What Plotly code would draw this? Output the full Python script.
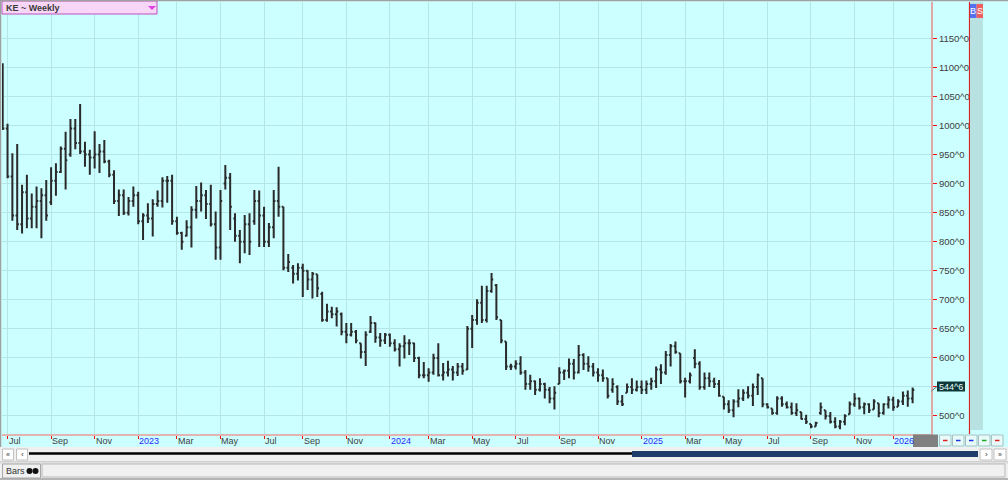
import pandas as pd
import plotly.graph_objects as go

# ---------------- data (weekly KE bars) ----------------
first_bar = "2022-06-24"
n_bars = 189

highs = [1107, 1003, 952, 968, 898, 915, 883, 895, 892, 906,
         928, 935, 964, 989, 1011, 1011, 1037, 972, 958, 990,
         968, 975, 941, 923, 890, 890, 877, 895, 886, 849,
         866, 873, 888, 911, 913, 915, 843, 817, 837, 861,
         896, 902, 889, 898, 852, 889, 932, 918, 849, 820,
         846, 849, 889, 888, 860, 832, 889, 929, 860, 779,
         760, 763, 762, 751, 748, 744, 714, 693, 688, 687,
         678, 660, 660, 648, 625, 646, 672, 661, 643, 643,
         642, 632, 625, 639, 632, 626, 602, 593, 582, 607,
         625, 591, 595, 586, 591, 591, 655, 674, 701, 724,
         724, 746, 727, 665, 628, 590, 596, 603, 579, 571,
         561, 565, 557, 550, 551, 584, 580, 599, 598, 622,
         608, 603, 591, 582, 580, 565, 565, 553, 536, 556,
         565, 561, 561, 561, 566, 585, 589, 612, 624, 628,
         608, 566, 575, 615, 594, 575, 575, 566, 562, 533,
         527, 529, 546, 546, 551, 556, 573, 565, 522, 513,
         534, 534, 525, 523, 522, 507, 502, 486, 490, 523,
         510, 507, 498, 493, 503, 525, 539, 532, 523, 522,
         529, 522, 522, 534, 533, 529, 542, 544, 549]

lows = [992, 909, 836, 820, 814, 823, 823, 823, 806, 836,
        863, 879, 918, 890, 946, 959, 951, 929, 915, 926,
        918, 935, 911, 865, 844, 846, 845, 860, 830, 803,
        832, 809, 860, 859, 867, 829, 812, 786, 809, 790,
        840, 852, 839, 826, 769, 769, 890, 820, 800, 763,
        780, 777, 829, 791, 791, 791, 806, 843, 751, 748,
        728, 733, 705, 717, 702, 705, 662, 662, 668, 654,
        639, 625, 637, 625, 599, 586, 643, 626, 619, 624,
        619, 611, 585, 599, 605, 593, 565, 565, 559, 571,
        568, 561, 568, 561, 569, 571, 579, 617, 657, 660,
        661, 712, 665, 625, 579, 579, 580, 571, 545, 545,
        536, 542, 530, 522, 511, 555, 562, 565, 563, 573,
        579, 576, 568, 559, 559, 530, 540, 519, 517, 540,
        538, 542, 538, 538, 545, 548, 555, 571, 585, 607,
        556, 532, 556, 582, 545, 545, 550, 548, 533, 511,
        505, 498, 515, 526, 530, 517, 536, 515, 513, 502,
        502, 516, 513, 502, 500, 494, 486, 479, 482, 502,
        494, 487, 479, 477, 484, 503, 516, 511, 503, 505,
        511, 498, 502, 513, 509, 516, 519, 516, 522]

opens = [1105, 995, 912, 845, 830, 885, 840, 860, 870, 880,
         868, 905, 920, 960, 950, 995, 970, 955, 950, 945,
         950, 955, 938, 915, 870, 880, 850, 870, 880, 835,
         845, 840, 865, 870, 905, 905, 835, 815, 810, 825,
         855, 870, 880, 865, 830, 790, 900, 910, 840, 810,
         800, 830, 835, 870, 845, 800, 825, 870, 860, 755,
         755, 745, 755, 750, 735, 744, 710, 665, 680, 675,
         675, 645, 640, 645, 625, 610, 645, 660, 635, 630,
         640, 625, 615, 620, 625, 625, 600, 570, 570, 575,
         600, 570, 575, 580, 575, 585, 580, 650, 665, 695,
         665, 715, 725, 665, 628, 585, 585, 590, 575, 555,
         560, 545, 555, 545, 530, 555, 575, 578, 590, 575,
         605, 590, 585, 575, 570, 565, 545, 550, 525, 540,
         550, 545, 550, 545, 555, 560, 580, 575, 605, 620,
         608, 560, 560, 600, 590, 550, 565, 560, 555, 533,
         520, 510, 525, 530, 540, 535, 550, 565, 520, 513,
         505, 530, 520, 515, 505, 507, 495, 486, 482, 505,
         510, 500, 490, 482, 490, 503, 520, 530, 515, 520,
         511, 522, 505, 520, 528, 516, 525, 535, 530]

closes = [995, 912, 845, 830, 885, 840, 860, 870, 880, 845,
          905, 920, 960, 940, 995, 970, 955, 950, 945, 950,
          955, 938, 915, 870, 880, 850, 870, 880, 835, 845,
          840, 865, 870, 905, 905, 835, 815, 800, 825, 855,
          870, 880, 865, 830, 790, 870, 910, 860, 810, 800,
          830, 800, 870, 845, 800, 825, 870, 860, 755, 765,
          745, 755, 750, 735, 745, 720, 665, 680, 675, 680,
          645, 640, 645, 630, 610, 640, 660, 635, 630, 640,
          625, 615, 620, 625, 625, 600, 570, 570, 575, 600,
          570, 575, 580, 575, 585, 578, 650, 665, 695, 665,
          715, 735, 670, 630, 585, 585, 590, 575, 555, 560,
          545, 555, 545, 530, 540, 575, 578, 590, 575, 605,
          590, 585, 575, 570, 565, 535, 555, 525, 520, 550,
          545, 550, 545, 555, 560, 580, 575, 605, 620, 610,
          560, 560, 570, 590, 550, 565, 560, 555, 535, 520,
          510, 525, 530, 540, 535, 550, 570, 520, 515, 505,
          530, 520, 515, 505, 510, 495, 490, 482, 488, 515,
          500, 490, 482, 490, 500, 520, 530, 515, 520, 510,
          525, 505, 520, 528, 515, 525, 535, 530, 544.75]

month_ticks = ["2022-07-01", "2022-09-02", "2022-11-04", "2023-01-06", "2023-03-03",
               "2023-05-05", "2023-07-07", "2023-09-01", "2023-11-03", "2024-01-05",
               "2024-03-01", "2024-05-03", "2024-07-05", "2024-09-06", "2024-11-01",
               "2025-01-03", "2025-03-07", "2025-05-02", "2025-07-04", "2025-09-05",
               "2025-11-07", "2026-01-02"]
month_labels = ["Jul", "Sep", "Nov", "2023", "Mar", "May", "Jul", "Sep", "Nov", "2024",
                "Mar", "May", "Jul", "Sep", "Nov", "2025", "Mar", "May", "Jul", "Sep",
                "Nov", "2026"]

price_ticks = [500, 550, 600, 650, 700, 750, 800, 850, 900, 950, 1000, 1050, 1100, 1150]
price_labels = ["500^0", "", "600^0", "650^0", "700^0", "750^0", "800^0", "850^0",
                "900^0", "950^0", "1000^0", "1050^0", "1100^0", "1150^0"]
last_label = "544^6"
title_text = "KE ~ Weekly"

dates = pd.date_range(first_bar, periods=n_bars, freq="7D")

# ---------------- figure ----------------
CYAN = "#ccffff"
GRID = "#b4e6e6"
FONT = "Liberation Sans"

fig = go.Figure()
fig.add_trace(go.Ohlc(
    x=dates, open=opens, high=highs, low=lows, close=closes,
    increasing=dict(line=dict(color="#2a2a2a", width=2)),
    decreasing=dict(line=dict(color="#2a2a2a", width=2)),
    tickwidth=0.35, hoverinfo="skip", showlegend=False))

L, R, T, B = 2, 931, 2, 434
W, H = R - L, B - T


def PX(x):
    return (x - L) / W


def PY(y):
    return (B - y) / H


shapes = []
annos = []


def rect(x0, y0, x1, y1, fill, line=None, lw=1):
    shapes.append(dict(type="rect", xref="paper", yref="paper",
                       x0=PX(x0), x1=PX(x1), y0=PY(y1), y1=PY(y0),
                       fillcolor=fill,
                       line=dict(color=line if line else fill, width=lw if line else 0)))


def seg(x0, y0, x1, y1, color, lw=1):
    shapes.append(dict(type="line", xref="paper", yref="paper",
                       x0=PX(x0), x1=PX(x1), y0=PY(y0), y1=PY(y1),
                       line=dict(color=color, width=lw)))


def text(x, y, s, size=9, color="#333333", anchor="left", bold=False):
    annos.append(dict(xref="paper", yref="paper", x=PX(x), y=PY(y), text=("<b>%s</b>" % s) if bold else s,
                      showarrow=False, xanchor=anchor, yanchor="middle",
                      font=dict(family=FONT, size=size, color=color), borderpad=0))


# right-hand strip
seg(969.5, 2, 969.5, 434, "#dd2222", 1.2)
rect(970, 2, 983, 430, "#b8e2e2")
rect(970, 4, 976.5, 18, "#5570ee")
rect(976.5, 4, 983, 18, "#ee6060")
text(973.2, 11, "B", 9, "white", "center")
text(979.8, 11, "S", 9, "white", "center")

# title box
rect(2, 1, 157, 14, "#f7d6f8", "#c050c0", 1)
text(5, 7.7, title_text, 9, "#3a3a3a", bold=True)
shapes.append(dict(type="path", xref="paper", yref="paper",
                   path="M %f %f L %f %f L %f %f Z" % (PX(148), PY(6), PX(156), PY(6), PX(152), PY(10)),
                   fillcolor="#e040e0", line=dict(width=0)))

# last price label
seg(931.5, 391, 937, 386.5, "#557777", 1)
rect(937, 381.5, 965, 391.5, "#0e3838")
text(951, 386.8, last_label, 9, "#e8ffff", "center")

# gray box and buttons on the date row
rect(913, 434.5, 938, 447, "#808080")
btn_x = [939.5, 952.5, 965.5, 978.5, 991.5]
btn_c = ["#dd2222", "#2233dd", "#2233dd", "#22aa22", "#dd2222"]
for bx, bc in zip(btn_x, btn_c):
    rect(bx, 435, bx + 11.5, 446, "#e8fbfb", "#a8c0c0", 1)
    seg(bx + 3.5, 440.5, bx + 8, 440.5, bc, 1.5)

# lower grey panel
rect(-2, 447, 1010, 482, "#f0f0f0")
rect(2.5, 449, 13.5, 460, "#ffffff", "#c0c0c0", 1)
rect(16.5, 449, 27.5, 460, "#ffffff", "#c0c0c0", 1)
text(8, 454.5, "«", 7, "#333333", "center")
text(22, 454.5, "‹", 8, "#333333", "center")
seg(29, 453.5, 632, 453.5, "#000000", 2.5)
rect(632, 451, 978, 457, "#1f3d6b")
rect(980, 449, 992, 460, "#ffffff", "#c0c0c0", 1)
rect(994, 449, 1006, 460, "#ffffff", "#c0c0c0", 1)
text(986, 454.5, "›", 8, "#333333", "center")
text(1000, 454.5, "»", 7, "#333333", "center")
seg(0, 461.5, 1008, 461.5, "#d0d0d0", 1)
seg(0, 463, 1008, 463, "#d0d0d0", 1)
rect(2.5, 464, 40.5, 478, "#f0f0f0", "#a8a8a8", 1)
text(5, 471, "Bars", 9, "#333333")
for cx in (29.5, 35.5):
    shapes.append(dict(type="circle", xref="paper", yref="paper",
                       x0=PX(cx - 3), x1=PX(cx + 3), y0=PY(474), y1=PY(468),
                       fillcolor="#111111", line=dict(width=0)))
rect(42, 464, 1005, 477, "#f0f0f0", "#b8b8b8", 1)
seg(0, 479, 1008, 479, "#a0a0a0", 1.5)

# outer frame
seg(0, 0.5, 1008, 0.5, "#a0a0a0", 1.5)
seg(0.5, 0, 0.5, 447, "#a0a0a0", 1.5)

# date labels (left-aligned at their ticks)
for d, lab in zip(month_ticks, month_labels):
    annos.append(dict(xref="x", yref="paper", x=d, y=PY(441), text=lab, showarrow=False,
                      xanchor="left", yanchor="middle", borderpad=0,
                      font=dict(family=FONT, size=9,
                                color="#2b2bff" if lab.isdigit() else "#404040")))

fig.update_layout(
    width=1008, height=480,
    margin=dict(l=L, r=1008 - R, t=T, b=480 - B),
    paper_bgcolor=CYAN, plot_bgcolor=CYAN,
    showlegend=False,
    shapes=shapes, annotations=annos,
    xaxis=dict(type="date", range=["2022-06-23", "2026-02-25 14:00"],
               tickvals=month_ticks, showticklabels=False,
               ticks="outside", ticklen=3, tickcolor="#ee1111", tickwidth=1,
               showgrid=True, gridcolor=GRID, gridwidth=1,
               showline=True, linecolor="#e2b4b4", linewidth=2,
               rangeslider=dict(visible=False), fixedrange=True, zeroline=False),
    yaxis=dict(side="right", range=[469, 1212.5],
               tickvals=price_ticks, ticktext=price_labels,
               ticks="outside", ticklen=4, tickcolor="#ee1111", tickwidth=1,
               tickfont=dict(family=FONT, size=9.5, color="#404040"),
               showgrid=True, gridcolor=GRID, gridwidth=1,
               showline=True, linecolor="#e2a8a8", linewidth=2,
               fixedrange=True, zeroline=False),
)

fig.write_html("out.html", config={"displayModeBar": False},
               post_script="document.body.style.margin='0';document.body.style.overflow='hidden';")
